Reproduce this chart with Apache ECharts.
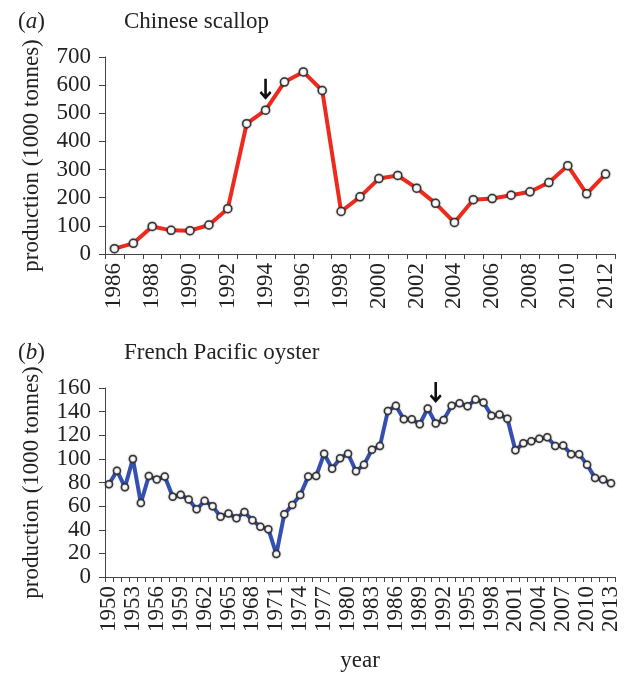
<!DOCTYPE html>
<html>
<head>
<meta charset="utf-8">
<script src="https://cdn.jsdelivr.net/npm/echarts@6/dist/echarts.min.js"></script>
<style>
html, body { margin: 0; padding: 0; background: #fff; }
#main { width: 630px; height: 673px; }
</style>
</head>
<body>
<div id="main"></div>
<script>
// (a) Chinese scallop, production in 1000 tonnes
var scallopYears = ['1986','1987','1988','1989','1990','1991','1992','1993','1994','1995','1996','1997','1998','1999',
    '2000','2001','2002','2003','2004','2005','2006','2007','2008','2009','2010','2011','2012'];
var scallopProd = [19, 38, 98, 84, 83, 103, 161, 463, 511, 611, 647, 581, 151, 203,
    268, 279, 234, 180, 112, 193, 197, 209, 221, 254, 314, 214, 284];

// (b) French Pacific oyster, production in 1000 tonnes
var oysterYears = ['1950','1951','1952','1953','1954','1955','1956','1957','1958','1959',
    '1960','1961','1962','1963','1964','1965','1966','1967','1968','1969',
    '1970','1971','1972','1973','1974','1975','1976','1977','1978','1979',
    '1980','1981','1982','1983','1984','1985','1986','1987','1988','1989',
    '1990','1991','1992','1993','1994','1995','1996','1997','1998','1999',
    '2000','2001','2002','2003','2004','2005','2006','2007','2008','2009',
    '2010','2011','2012','2013'];
var oysterProd = [78.5, 90, 76, 100, 62.6, 85.5, 82.5, 85, 68, 69.6,
    65.6, 57.3, 64.5, 60, 51, 53.8, 49.7, 55, 48, 42.5,
    40.5, 19.4, 53.2, 61, 69.4, 85, 85.5, 104.3, 91.7, 100.5,
    104.3, 89.5, 95, 107.8, 110.8, 140.6, 145, 133.6, 133.6, 129.3,
    142.7, 130, 133, 145, 147, 144.6, 150.3, 147.8, 136.6, 137.6,
    134, 107.3, 113.2, 115, 117, 118.3, 111, 111.3, 104, 104,
    95, 83.9, 82.5, 79.3];

var scallopArrowYear = '1994';
var oysterArrowYear = '1991';

var FONT = '"Liberation Serif", "DejaVu Serif", serif';
var FS = 23;
var AXIS = '#444';
// bold down arrow with open chevron head
var arrowPath = 'path://M4.6,0 L7.4,0 L7.4,15.2 L10.6,12 L12.4,13.9 L6,20.4 L-0.4,13.9 L1.4,12 L4.6,15.2 Z';

var chartDom = document.getElementById('main');
var myChart = echarts.init(chartDom);

function xAxisFor(idx, cats, labelEvery, name) {
    return {
        type: 'category',
        gridIndex: idx,
        data: cats,
        boundaryGap: true,
        name: name || '',
        nameLocation: 'middle',
        nameGap: 72,
        nameTextStyle: { fontFamily: FONT, fontSize: FS, color: '#222' },
        axisLine: { lineStyle: { color: AXIS, width: 1 } },
        axisTick: { show: true, interval: 0, length: 5, lineStyle: { color: AXIS } },
        axisLabel: {
            interval: labelEvery - 1,
            rotate: 90,
            margin: 9,
            fontFamily: FONT,
            fontSize: FS,
            color: '#222'
        },
        splitLine: { show: false }
    };
}

function yAxisFor(idx, max, step) {
    return {
        type: 'value',
        gridIndex: idx,
        min: 0,
        max: max,
        interval: step,
        name: 'production (1000 tonnes)',
        nameLocation: 'middle',
        nameGap: 62,
        nameTextStyle: { fontFamily: FONT, fontSize: FS, color: '#222' },
        axisLine: { show: true, lineStyle: { color: AXIS, width: 1 } },
        axisTick: { show: true, length: 6, lineStyle: { color: AXIS } },
        axisLabel: { margin: 14, fontFamily: FONT, fontSize: FS, color: '#222' },
        splitLine: { show: false }
    };
}

function lineSeries(idx, values, color, arrowYear, arrowValue, arrowOffset, dot) {
    return {
        type: 'line',
        xAxisIndex: idx,
        yAxisIndex: idx,
        data: values,
        symbol: 'circle',
        symbolSize: dot,
        showAllSymbol: true,
        lineStyle: { color: color, width: 4 },
        itemStyle: { color: '#fff', borderColor: '#333', borderWidth: 1.5,
            shadowColor: 'rgba(0,0,0,0.35)', shadowBlur: 2 },
        emphasis: { disabled: true },
        animation: false,
        markPoint: {
            symbol: arrowPath,
            symbolSize: [12, 21],
            symbolOffset: [0, arrowOffset],
            itemStyle: { color: '#111' },
            label: { show: false },
            data: [{ coord: [arrowYear, arrowValue] }]
        }
    };
}

var titleStyle = { fontFamily: FONT, fontSize: FS, fontWeight: 'normal', color: '#222',
    rich: { i: { fontFamily: FONT, fontSize: FS, fontStyle: 'italic', color: '#222' } } };

var option = {
    backgroundColor: '#fff',
    animation: false,
    title: [
        { text: '({i|a})', left: 13, top: 5, textStyle: titleStyle },
        { text: 'Chinese scallop', left: 119, top: 5, textStyle: titleStyle },
        { text: '({i|b})', left: 13, top: 336, textStyle: titleStyle },
        { text: 'French Pacific oyster', left: 119, top: 336, textStyle: titleStyle }
    ],
    grid: [
        { left: 105, right: 15, top: 57, height: 197 },
        { left: 105, right: 15, top: 388, height: 199 }
    ],
    xAxis: [
        xAxisFor(0, scallopYears, 2),
        xAxisFor(1, oysterYears, 3, 'year')
    ],
    yAxis: [
        yAxisFor(0, 700, 100),
        yAxisFor(1, 160, 20)
    ],
    series: [
        lineSeries(0, scallopProd, '#ee2a1e', scallopArrowYear,
            scallopProd[scallopYears.indexOf(scallopArrowYear)], -21, 8),
        lineSeries(1, oysterProd, '#3450b0', oysterArrowYear,
            oysterProd[oysterYears.indexOf(oysterArrowYear)], -31, 7)
    ]
};

option && myChart.setOption(option);
</script>
</body>
</html>
